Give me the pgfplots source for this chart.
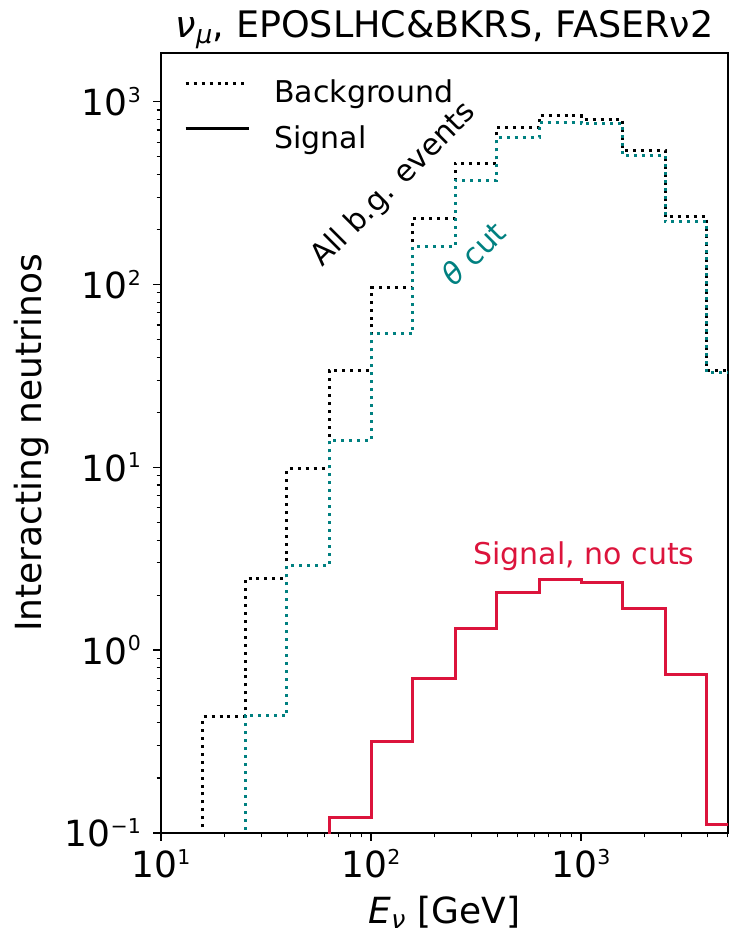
\documentclass[border=0pt]{standalone}
\usepackage{fontspec}
\setmainfont{DejaVu Sans}
\usepackage{pgfplots}
\pgfplotsset{compat=1.18}

\definecolor{bgteal}{HTML}{008080}
\definecolor{sigred}{HTML}{DC143C}

% power-of-ten tick label, set in the text font
\newcommand\tkl[1]{\mbox{10\raisebox{13.3pt}{\fontsize{20.5}{20.5}\selectfont #1}}}

\tikzset{
  bgline/.style={line width=3pt, dash pattern=on 3pt off 4.95pt},
  sgline/.style={line width=3pt},
}

\begin{document}
\begin{tikzpicture}
\begin{axis}[
  name=ax,
  scale only axis,
  width=567pt, height=780pt,
  xmode=log, ymode=log,
  xmin=10, xmax=5012,
  ymin=0.1, ymax=1845,
  axis line style={line width=1.5pt},
  tick pos=left,
  tick align=outside,
  major tick length=8pt,
  minor tick length=4.5pt,
  every major tick/.style={line width=1.4pt, black},
  every minor tick/.style={line width=1.1pt, black},
  xtick={10,100,1000},
  xticklabels={\tkl{1},\tkl{2},\tkl{3}},
  minor xtick={20,30,40,50,60,70,80,90,200,300,400,500,600,700,800,900,2000,3000,4000,5000},
  ytick={0.1,1,10,100,1000},
  yticklabels={\tkl{−1},\tkl{0},\tkl{1},\tkl{2},\tkl{3}},
  minor ytick={0.2,0.3,0.4,0.5,0.6,0.7,0.8,0.9,2,3,4,5,6,7,8,9,20,30,40,50,60,70,80,90,200,300,400,500,600,700,800,900},
  tick label style={font=\fontsize{36}{36}\selectfont},
  xticklabel style={inner sep=2pt, yshift=-6pt},
  yticklabel style={inner sep=2pt, xshift=-10pt},
  every axis title shift=0pt,
  title={\textit{ν}\textsubscript{\textit{μ}}, EPOSLHC\&BKRS, FASERν2},
  title style={font=\fontsize{36.5}{36.5}\selectfont, at={(0.5,1)}, anchor=base, yshift=15pt},
  xlabel={\textit{E}\textsubscript{\textit{ν}} [GeV]},
  xlabel style={font=\fontsize{36}{36}\selectfont, at={(0.5,0)}, anchor=base, yshift=-90pt},
  ylabel={Interacting neutrinos},
  ylabel style={font=\fontsize{36}{36}\selectfont, at={(0,0.5)}, anchor=base, yshift=119pt},
  legend style={draw=none, fill=none, at={(0,1)}, anchor=north west, xshift=20pt, yshift=-23pt,
    font=\fontsize{30}{30}\selectfont, row sep=17pt, column sep=22pt},
  legend cell align=left,
  legend image code/.code={\path (0pt,0pt); \draw[#1] (0pt,9pt) -- (63pt,9pt);},
  clip=true,
]

% all background events
\addplot[black, bgline, const plot mark left, forget plot] coordinates {
  (10,0.01) (15.849,0.433) (25.119,2.46) (39.811,9.8) (63.096,34) (100,96)
  (158.49,229) (251.19,461) (398.11,721) (630.96,839) (1000,801)
  (1584.9,541) (2511.9,234) (3981.1,34) (6309.6,34)
};
% background after the theta cut
\addplot[bgteal, bgline, const plot mark left, forget plot] coordinates {
  (10,0.01) (25.119,0.438) (39.811,2.90) (63.096,14.0) (100,54)
  (158.49,162) (251.19,371) (398.11,638) (630.96,768) (1000,755)
  (1584.9,506) (2511.9,221) (3981.1,33) (6309.6,33)
};
% signal, no cuts
\addplot[sigred, sgline, const plot mark left, forget plot] coordinates {
  (39.811,0.01) (63.096,0.121) (100,0.316) (158.49,0.70) (251.19,1.31)
  (398.11,2.08) (630.96,2.43) (1000,2.33) (1584.9,1.69) (2511.9,0.74)
  (3981.1,0.111) (6309.6,0.111)
};

\addlegendimage{black, bgline}
\addlegendentry{Background}
\addlegendimage{black, sgline}
\addlegendentry{Signal}

\node[rotate=45, font=\fontsize{30}{30}\selectfont, black] at (axis cs:128.8,351) {All b.g. events};
\node[rotate=45, font=\fontsize{30}{30}\selectfont, text=bgteal] at (axis cs:307.8,148) {\textit{θ} cut};
\node[anchor=base, font=\fontsize{30}{30}\selectfont, text=sigred] at (axis cs:1033,2.93) {Signal, no cuts};
\end{axis}
\pgfresetboundingbox
\path ([xshift=-161pt,yshift=-100pt]ax.south west) rectangle ([xshift=1pt,yshift=53pt]ax.north east);
\end{tikzpicture}
\end{document}
